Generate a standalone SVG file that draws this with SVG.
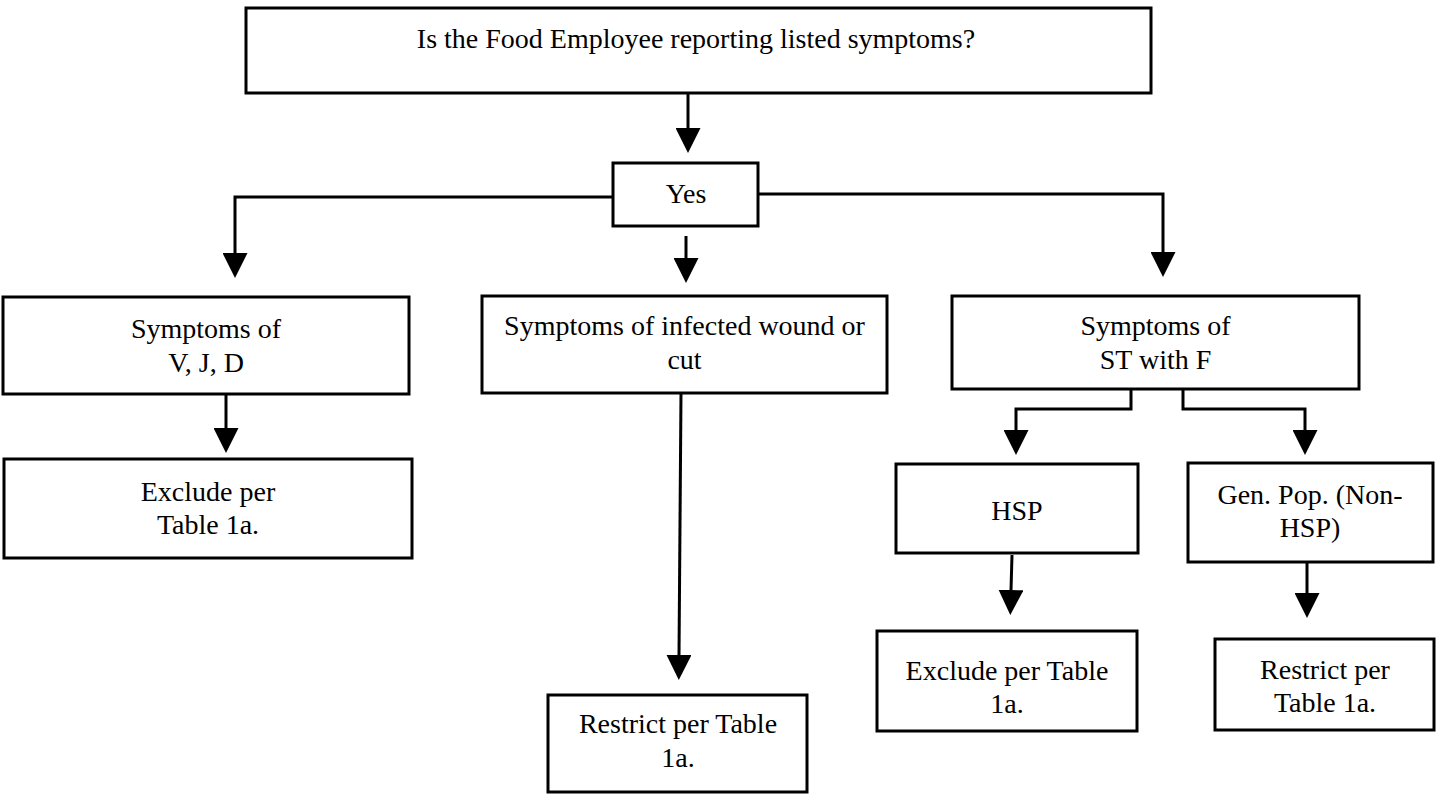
<svg xmlns="http://www.w3.org/2000/svg" width="1437" height="794" viewBox="0 0 1437 794">
<style>
.box{fill:#fff;stroke:#000;stroke-width:3}
.c{fill:none;stroke:#000;stroke-width:3}
text{font-family:"Liberation Serif","Times New Roman",serif;font-size:28px;fill:#000;text-anchor:middle}
</style>
<defs>
<marker id="ah" markerUnits="userSpaceOnUse" markerWidth="25" markerHeight="25" refX="0" refY="12.5" orient="auto">
<path d="M0,0 L25,12.5 L0,25 Z" fill="#000"/>
</marker>
</defs>
<rect width="1437" height="794" fill="#fff"/>
<g id="connectors">
<path class="c" d="M688,93 V128" marker-end="url(#ah)"/>
<path class="c" d="M613,197 H235 V253" marker-end="url(#ah)"/>
<path class="c" d="M686,236 V258" marker-end="url(#ah)"/>
<path class="c" d="M758,194 H1163 V252" marker-end="url(#ah)"/>
<path class="c" d="M226,395 V428" marker-end="url(#ah)"/>
<path class="c" d="M681,393 L679,655" marker-end="url(#ah)"/>
<path class="c" d="M1131,389 V409 H1016 V430" marker-end="url(#ah)"/>
<path class="c" d="M1183,389 V409 H1305 V430" marker-end="url(#ah)"/>
<path class="c" d="M1012,555 L1011,590" marker-end="url(#ah)"/>
<path class="c" d="M1307,562 V593" marker-end="url(#ah)"/>
</g>
<g id="n-top"><rect class="box" x="246" y="8" width="905" height="85"/><text x="696" y="48">Is the Food Employee reporting listed symptoms?</text></g>
<g id="n-yes"><rect class="box" x="613" y="163" width="145" height="63"/><text x="686" y="203">Yes</text></g>
<g id="n-vjd"><rect class="box" x="3" y="297" width="406" height="97"/><text x="206" y="338">Symptoms of</text><text x="206" y="372">V, J, D</text></g>
<g id="n-wound"><rect class="box" x="482" y="296" width="405" height="97"/><text x="684.5" y="335">Symptoms of infected wound or</text><text x="684.5" y="369">cut</text></g>
<g id="n-st"><rect class="box" x="952" y="296" width="407" height="93"/><text x="1155.5" y="335">Symptoms of</text><text x="1155.5" y="369">ST with F</text></g>
<g id="n-excl1"><rect class="box" x="4" y="459" width="408" height="99"/><text x="208" y="501">Exclude per</text><text x="208" y="534">Table 1a.</text></g>
<g id="n-restr1"><rect class="box" x="548" y="695" width="259" height="97"/><text x="678" y="733">Restrict per Table</text><text x="678" y="767">1a.</text></g>
<g id="n-hsp"><rect class="box" x="896" y="464" width="242" height="89"/><text x="1017" y="520">HSP</text></g>
<g id="n-genpop"><rect class="box" x="1188" y="463" width="245" height="99"/><text x="1310" y="504">Gen. Pop. (Non-</text><text x="1310" y="537">HSP)</text></g>
<g id="n-excl2"><rect class="box" x="877" y="631" width="260" height="100"/><text x="1007" y="680">Exclude per Table</text><text x="1007" y="713">1a.</text></g>
<g id="n-restr2"><rect class="box" x="1215" y="639" width="219" height="91"/><text x="1325" y="679">Restrict per</text><text x="1325" y="712">Table 1a.</text></g>
</svg>
